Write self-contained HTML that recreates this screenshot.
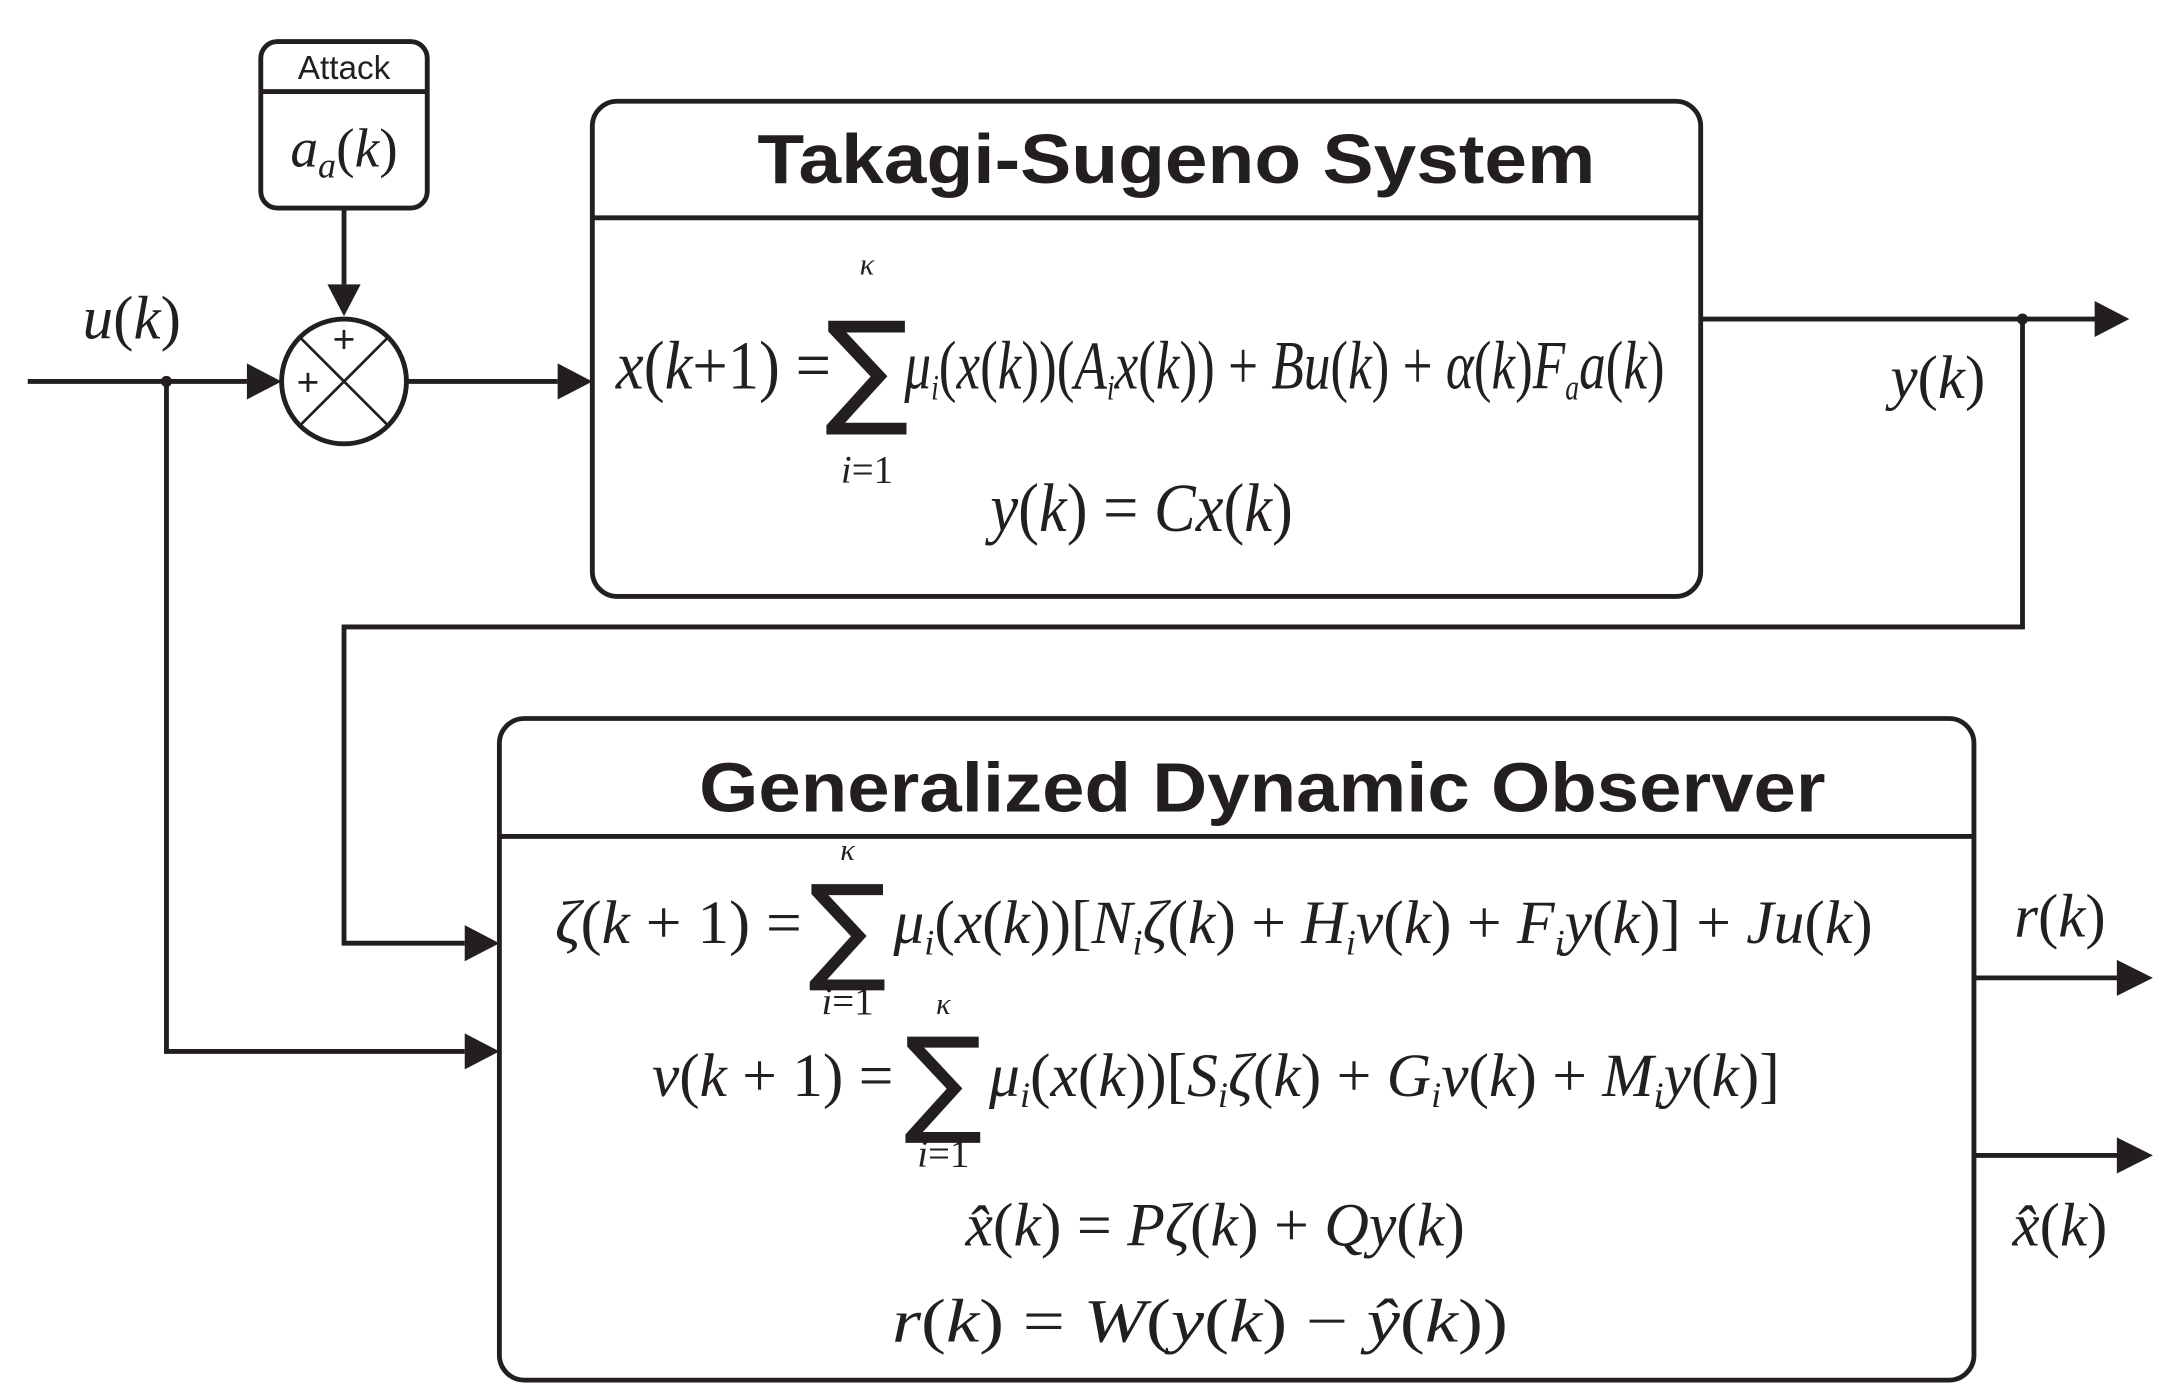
<!DOCTYPE html>
<html><head><meta charset="utf-8"><style>
html,body{margin:0;padding:0;background:#fff;}
svg{display:block;}
.m{font-family:"Liberation Serif",serif;font-style:italic;fill:#231f20;}
.t{font-family:"Liberation Sans",sans-serif;font-weight:bold;fill:#231f20;}
</style></head><body>
<svg width="2164" height="1394" viewBox="0 0 1560 1005" preserveAspectRatio="none" xmlns="http://www.w3.org/2000/svg">
<defs><marker id="a" markerWidth="10" markerHeight="10" refX="9" refY="5" orient="auto" markerUnits="userSpaceOnUse" viewBox="0 0 10 10"><path d="M0,0 L10,5 L0,10z" fill="#231f20"/></marker></defs>
<g stroke="#231f20" stroke-width="3.5" fill="none">
<!-- attack box -->
<rect x="188" y="30" width="120" height="120" rx="12"/>
<line x1="188" y1="66" x2="308" y2="66"/>
<!-- TS box -->
<rect x="427" y="73" width="799" height="357" rx="18"/>
<line x1="427" y1="157" x2="1226" y2="157"/>
<!-- observer -->
<rect x="360" y="518" width="1063" height="477" rx="18"/>
<line x1="360" y1="603" x2="1423" y2="603"/>
<!-- summer -->
<circle cx="248" cy="275" r="45"/>
<line x1="216" y1="243" x2="280" y2="307" stroke-width="2"/>
<line x1="280" y1="243" x2="216" y2="307" stroke-width="2"/>
</g>
<g stroke="#231f20" stroke-width="3.5" fill="none">
<path d="M248,150 L248,205"/>
<path d="M20,275 L178,275"/>
<path d="M293,275 L402,275"/>
<path d="M1226,230 L1512,230"/>
<path d="M1458,230 L1458,452 L248,452 L248,680 L335,680"/>
<path d="M120,275 L120,758 L335,758"/>
<path d="M1423,705 L1528,705"/>
<path d="M1423,833 L1528,833"/>
</g>
<g fill="#231f20">
<path d="M236,205 L260,205 L248,228z"/>
<path d="M178,262 L178,288 L203,275z"/>
<path d="M402,262 L402,288 L427,275z"/>
<path d="M1510,217 L1510,243 L1535,230z"/>
<path d="M335,667 L335,693 L360,680z"/>
<path d="M335,745 L335,771 L360,758z"/>
<path d="M1526,692 L1526,718 L1552,705z"/>
<path d="M1526,820 L1526,846 L1552,833z"/>
<circle cx="120" cy="275" r="4"/>
<circle cx="1458" cy="230" r="4"/>
</g>
<text x="248" y="57" text-anchor="middle" font-family="Liberation Sans,sans-serif" font-size="24" fill="#231f20">Attack</text>
<text x="248" y="254" text-anchor="middle" font-family="Liberation Sans,sans-serif" font-size="28" fill="#231f20">+</text>
<text x="222" y="285" text-anchor="middle" font-family="Liberation Sans,sans-serif" font-size="28" fill="#231f20">+</text>
<text class="m" x="248" y="120" text-anchor="middle" font-size="40">a<tspan font-size="26" dy="8">a</tspan><tspan dy="-8" font-style="normal">(</tspan>k<tspan font-style="normal">)</tspan></text>
<text class="m" x="95" y="244" text-anchor="middle" font-size="44">u<tspan font-style="normal">(</tspan>k<tspan font-style="normal">)</tspan></text>
<text class="m" x="1397" y="287" text-anchor="middle" font-size="44">y<tspan font-style="normal">(</tspan>k<tspan font-style="normal">)</tspan></text>
<text class="m" x="1485" y="675" text-anchor="middle" font-size="44">r<tspan font-style="normal">(</tspan>k<tspan font-style="normal">)</tspan></text>
<text class="m" x="1485" y="898" text-anchor="middle" font-size="44">x̂<tspan font-style="normal">(</tspan>k<tspan font-style="normal">)</tspan></text>
<text class="t" x="848" y="132" text-anchor="middle" font-size="50" textLength="604" lengthAdjust="spacingAndGlyphs">Takagi-Sugeno System</text>
<text class="t" x="910" y="585" text-anchor="middle" font-size="50" textLength="812" lengthAdjust="spacingAndGlyphs">Generalized Dynamic Observer</text>
<!-- TS equations -->
<text class="m" x="444" y="280" font-size="50" textLength="155" lengthAdjust="spacingAndGlyphs">x<tspan font-style="normal">(</tspan>k<tspan font-style="normal">+1) =</tspan></text>
<text x="625" y="296" text-anchor="middle" font-family="DejaVu Sans,sans-serif" font-size="90" fill="#231f20">∑</text>
<text class="m" x="625" y="198" text-anchor="middle" font-size="22">κ</text>
<text class="m" x="625" y="348" text-anchor="middle" font-size="28">i<tspan font-style="normal">=1</tspan></text>
<text class="m" x="652" y="280" font-size="50" textLength="548" lengthAdjust="spacingAndGlyphs">μ<tspan font-size="26" dy="8">i</tspan><tspan dy="-8" font-style="normal">(</tspan>x<tspan font-style="normal">(</tspan>k<tspan font-style="normal">))(</tspan>A<tspan font-size="26" dy="8">i</tspan><tspan dy="-8">x</tspan><tspan font-style="normal">(</tspan>k<tspan font-style="normal">)) + </tspan>Bu<tspan font-style="normal">(</tspan>k<tspan font-style="normal">) + </tspan>α<tspan font-style="normal">(</tspan>k<tspan font-style="normal">)</tspan>F<tspan font-size="26" dy="8">a</tspan><tspan dy="-8">a</tspan><tspan font-style="normal">(</tspan>k<tspan font-style="normal">)</tspan></text>
<text class="m" x="714" y="383" font-size="50" textLength="218" lengthAdjust="spacingAndGlyphs">y<tspan font-style="normal">(</tspan>k<tspan font-style="normal">) = </tspan>Cx<tspan font-style="normal">(</tspan>k<tspan font-style="normal">)</tspan></text>
<!-- Observer equations -->
<text class="m" x="400" y="680" font-size="44" textLength="178" lengthAdjust="spacingAndGlyphs">ζ<tspan font-style="normal">(</tspan>k<tspan font-style="normal"> + 1) =</tspan></text>
<text x="611" y="698" text-anchor="middle" font-family="DejaVu Sans,sans-serif" font-size="84" fill="#231f20">∑</text>
<text class="m" x="611" y="620" text-anchor="middle" font-size="22">κ</text>
<text class="m" x="611" y="731" text-anchor="middle" font-size="28">i<tspan font-style="normal">=1</tspan></text>
<text class="m" x="644" y="680" font-size="44" textLength="706" lengthAdjust="spacingAndGlyphs">μ<tspan font-size="26" dy="8">i</tspan><tspan dy="-8" font-style="normal">(</tspan>x<tspan font-style="normal">(</tspan>k<tspan font-style="normal">))[</tspan>N<tspan font-size="26" dy="8">i</tspan><tspan dy="-8">ζ</tspan><tspan font-style="normal">(</tspan>k<tspan font-style="normal">) + </tspan>H<tspan font-size="26" dy="8">i</tspan><tspan dy="-8">v</tspan><tspan font-style="normal">(</tspan>k<tspan font-style="normal">) + </tspan>F<tspan font-size="26" dy="8">i</tspan><tspan dy="-8">y</tspan><tspan font-style="normal">(</tspan>k<tspan font-style="normal">)] + </tspan>Ju<tspan font-style="normal">(</tspan>k<tspan font-style="normal">)</tspan></text>
<text class="m" x="470" y="790" font-size="44" textLength="174" lengthAdjust="spacingAndGlyphs">v<tspan font-style="normal">(</tspan>k<tspan font-style="normal"> + 1) =</tspan></text>
<text x="680" y="808" text-anchor="middle" font-family="DejaVu Sans,sans-serif" font-size="84" fill="#231f20">∑</text>
<text class="m" x="680" y="731" text-anchor="middle" font-size="22">κ</text>
<text class="m" x="680" y="841" text-anchor="middle" font-size="28">i<tspan font-style="normal">=1</tspan></text>
<text class="m" x="713" y="790" font-size="44" textLength="570" lengthAdjust="spacingAndGlyphs">μ<tspan font-size="26" dy="8">i</tspan><tspan dy="-8" font-style="normal">(</tspan>x<tspan font-style="normal">(</tspan>k<tspan font-style="normal">))[</tspan>S<tspan font-size="26" dy="8">i</tspan><tspan dy="-8">ζ</tspan><tspan font-style="normal">(</tspan>k<tspan font-style="normal">) + </tspan>G<tspan font-size="26" dy="8">i</tspan><tspan dy="-8">v</tspan><tspan font-style="normal">(</tspan>k<tspan font-style="normal">) + </tspan>M<tspan font-size="26" dy="8">i</tspan><tspan dy="-8">y</tspan><tspan font-style="normal">(</tspan>k<tspan font-style="normal">)]</tspan></text>
<text class="m" x="696" y="898" font-size="44" textLength="360" lengthAdjust="spacingAndGlyphs">x̂<tspan font-style="normal">(</tspan>k<tspan font-style="normal">) = </tspan>Pζ<tspan font-style="normal">(</tspan>k<tspan font-style="normal">) + </tspan>Qy<tspan font-style="normal">(</tspan>k<tspan font-style="normal">)</tspan></text>
<text class="m" x="643" y="967" font-size="44" textLength="444" lengthAdjust="spacingAndGlyphs">r<tspan font-style="normal">(</tspan>k<tspan font-style="normal">) = </tspan>W<tspan font-style="normal">(</tspan>y<tspan font-style="normal">(</tspan>k<tspan font-style="normal">) − </tspan>ŷ<tspan font-style="normal">(</tspan>k<tspan font-style="normal">))</tspan></text>
</svg>
</body></html>
